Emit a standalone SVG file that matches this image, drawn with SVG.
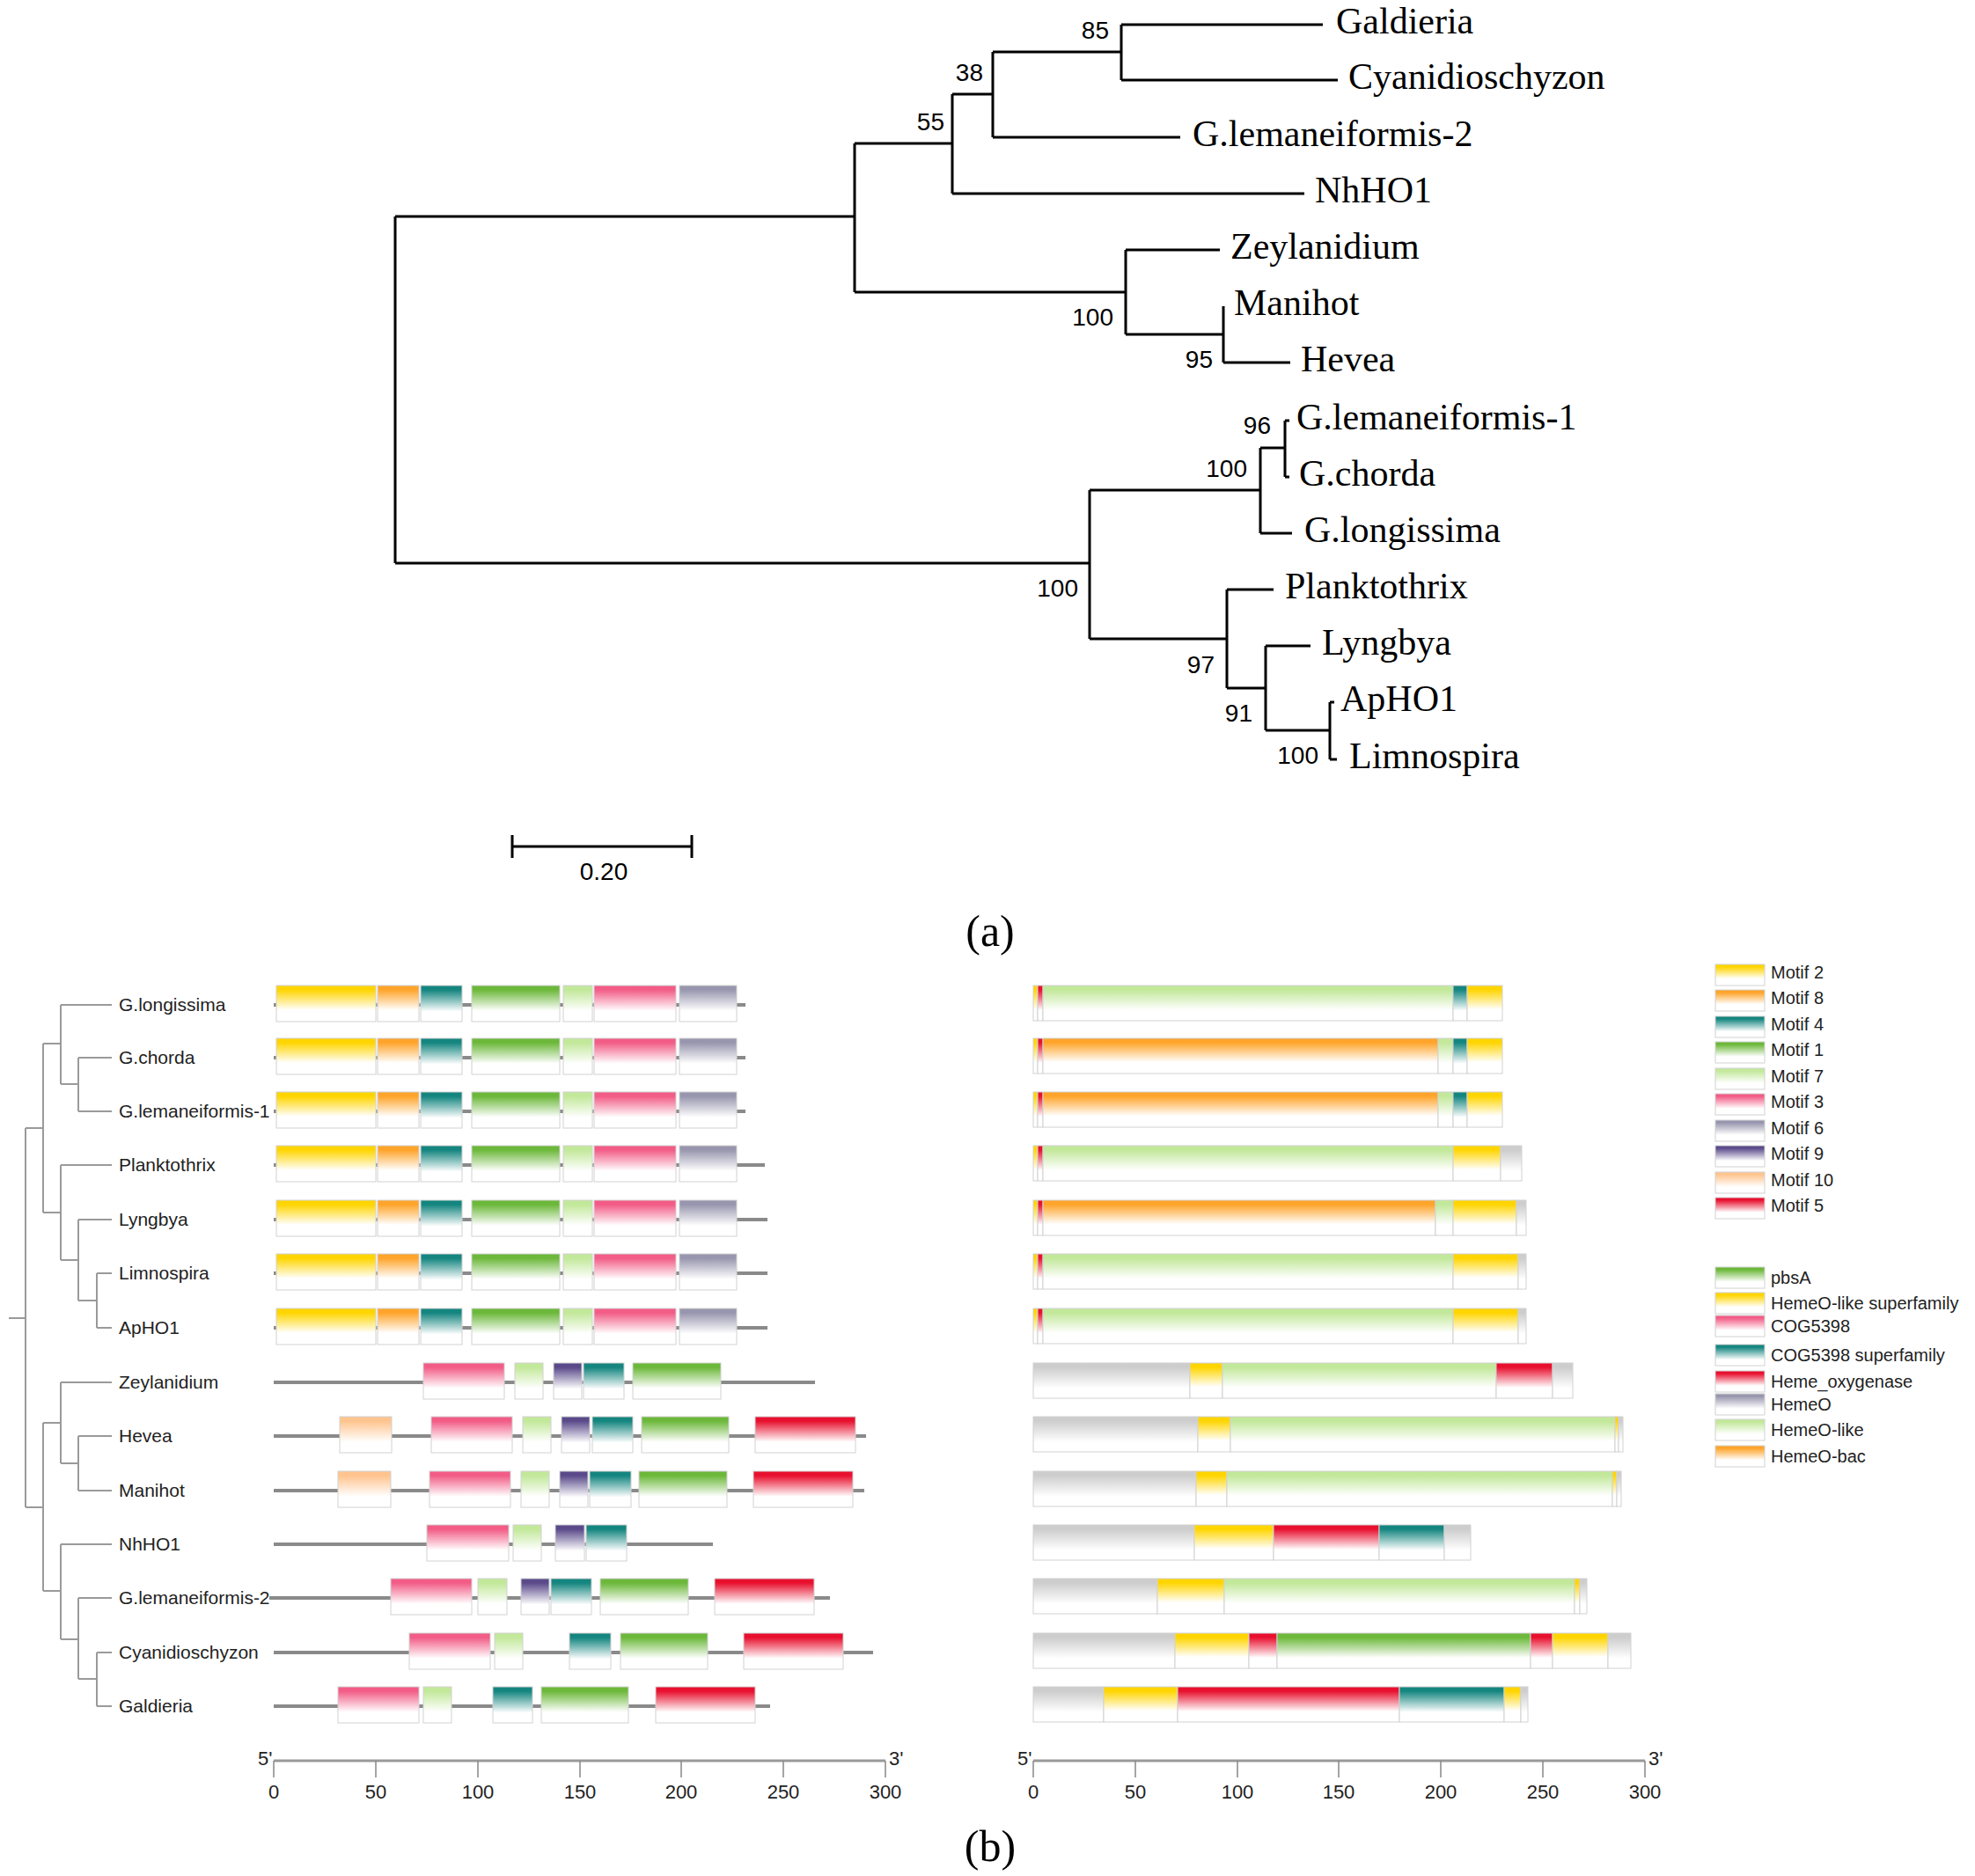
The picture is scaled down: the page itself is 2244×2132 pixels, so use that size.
<svg xmlns="http://www.w3.org/2000/svg" width="2244" height="2132" viewBox="0 0 2244 2132">
<defs>
<linearGradient id="gY" x1="0" y1="0" x2="0" y2="1"><stop offset="0" stop-color="#FFD500"/><stop offset="0.12" stop-color="#FFD500"/><stop offset="0.68" stop-color="#fff"/></linearGradient>
<linearGradient id="gO" x1="0" y1="0" x2="0" y2="1"><stop offset="0" stop-color="#FFA42A"/><stop offset="0.12" stop-color="#FFA42A"/><stop offset="0.68" stop-color="#fff"/></linearGradient>
<linearGradient id="gT" x1="0" y1="0" x2="0" y2="1"><stop offset="0" stop-color="#14857F"/><stop offset="0.12" stop-color="#14857F"/><stop offset="0.72" stop-color="#fff"/></linearGradient>
<linearGradient id="gG" x1="0" y1="0" x2="0" y2="1"><stop offset="0" stop-color="#6CB83A"/><stop offset="0.12" stop-color="#6CB83A"/><stop offset="0.7" stop-color="#fff"/></linearGradient>
<linearGradient id="gL" x1="0" y1="0" x2="0" y2="1"><stop offset="0" stop-color="#C2E89A"/><stop offset="0.12" stop-color="#C2E89A"/><stop offset="0.7" stop-color="#fff"/></linearGradient>
<linearGradient id="gP" x1="0" y1="0" x2="0" y2="1"><stop offset="0" stop-color="#F25C86"/><stop offset="0.12" stop-color="#F25C86"/><stop offset="0.7" stop-color="#fff"/></linearGradient>
<linearGradient id="gA" x1="0" y1="0" x2="0" y2="1"><stop offset="0" stop-color="#9896AE"/><stop offset="0.12" stop-color="#9896AE"/><stop offset="0.7" stop-color="#fff"/></linearGradient>
<linearGradient id="gV" x1="0" y1="0" x2="0" y2="1"><stop offset="0" stop-color="#5A4A8A"/><stop offset="0.12" stop-color="#5A4A8A"/><stop offset="0.72" stop-color="#fff"/></linearGradient>
<linearGradient id="gE" x1="0" y1="0" x2="0" y2="1"><stop offset="0" stop-color="#FFC48E"/><stop offset="0.12" stop-color="#FFC48E"/><stop offset="0.7" stop-color="#fff"/></linearGradient>
<linearGradient id="gR" x1="0" y1="0" x2="0" y2="1"><stop offset="0" stop-color="#E8102E"/><stop offset="0.12" stop-color="#E8102E"/><stop offset="0.7" stop-color="#fff"/></linearGradient>
<linearGradient id="gN" x1="0" y1="0" x2="0" y2="1"><stop offset="0" stop-color="#CDCDCD"/><stop offset="0.12" stop-color="#CDCDCD"/><stop offset="0.72" stop-color="#fff"/></linearGradient>
</defs>
<style>
.tl{fill:none;stroke:#000;stroke-width:3}
.gl{fill:none;stroke:#9a9a9a;stroke-width:2}
.bb{fill:none;stroke:#8a8a8a;stroke-width:4}
.leaf{font-family:"Liberation Serif",serif;font-size:42px;fill:#000}
.bs{font-family:"Liberation Sans",sans-serif;font-size:28px;fill:#000;text-anchor:end}
.sb{font-family:"Liberation Sans",sans-serif;font-size:28px;fill:#000;text-anchor:middle}
.pl{font-family:"Liberation Serif",serif;font-size:50px;fill:#000;text-anchor:middle}
.nm{font-family:"Liberation Sans",sans-serif;font-size:21px;fill:#222}
.lg{font-family:"Liberation Sans",sans-serif;font-size:20px;fill:#222}
.ax{font-family:"Liberation Sans",sans-serif;font-size:22px;fill:#222;text-anchor:middle}
.ax2{font-family:"Liberation Sans",sans-serif;font-size:22px;fill:#222}
.axl{fill:none;stroke:#999;stroke-width:3}
.tk{fill:none;stroke:#888;stroke-width:1.5}
.Y,.O,.T,.G,.L,.P,.A,.V,.E,.R,.N{stroke:#d2d2d2;stroke-width:1}
.Y{fill:url(#gY)}.O{fill:url(#gO)}.T{fill:url(#gT)}.G{fill:url(#gG)}.L{fill:url(#gL)}.P{fill:url(#gP)}.A{fill:url(#gA)}.V{fill:url(#gV)}.E{fill:url(#gE)}.R{fill:url(#gR)}.N{fill:url(#gN)}
</style>
<rect x="0" y="0" width="2244" height="2132" fill="#fff"/>

<!-- (a) phylogenetic tree -->
<g id="tree-a-connectors">
<path class="tl" d="M449,246 V640 M449,246 H971 M449,640 H1238"/>
<path class="tl" d="M971,163 V332 M971,163 H1082 M971,332 H1279"/>
<path class="tl" d="M1082,107 V220 M1082,107 H1128 M1082,220 H1482"/>
<path class="tl" d="M1128,59 V156 M1128,59 H1274 M1128,156 H1341"/>
<path class="tl" d="M1274,28 V91 M1274,28 H1503 M1274,91 H1520"/>
<path class="tl" d="M1279,284 V380 M1279,284 H1386 M1279,380 H1390"/>
<path class="tl" d="M1390,348 V412 M1390,412 H1466"/>
<path class="tl" d="M1238,557 V726 M1238,557 H1432 M1238,726 H1394"/>
<path class="tl" d="M1432,509 V606 M1432,509 H1460 M1432,606 H1468"/>
<path class="tl" d="M1460,478 V542 M1460,478 H1465 M1460,542 H1465"/>
<path class="tl" d="M1394,670 V782 M1394,670 H1447 M1394,782 H1438"/>
<path class="tl" d="M1438,734 V830 M1438,734 H1489 M1438,830 H1511"/>
<path class="tl" d="M1511,798 V863 M1511,798 H1516 M1511,863 H1519"/>
</g>
<g id="tree-a-bootstrap">
<text class="bs" x="1260" y="44">85</text>
<text class="bs" x="1117" y="92">38</text>
<text class="bs" x="1073" y="148">55</text>
<text class="bs" x="1265" y="370">100</text>
<text class="bs" x="1378" y="418">95</text>
<text class="bs" x="1444" y="493">96</text>
<text class="bs" x="1417" y="542">100</text>
<text class="bs" x="1225" y="678">100</text>
<text class="bs" x="1380" y="765">97</text>
<text class="bs" x="1423" y="820">91</text>
<text class="bs" x="1498" y="868">100</text>
</g>
<g id="a-Galdieria"><text class="leaf" x="1518" y="38">Galdieria</text></g>
<g id="a-Cyanidioschyzon"><text class="leaf" x="1532" y="101">Cyanidioschyzon</text></g>
<g id="a-Glem2"><text class="leaf" x="1355" y="166">G.lemaneiformis-2</text></g>
<g id="a-NhHO1"><text class="leaf" x="1494" y="230">NhHO1</text></g>
<g id="a-Zeylanidium"><text class="leaf" x="1398" y="294">Zeylanidium</text></g>
<g id="a-Manihot"><text class="leaf" x="1402" y="358">Manihot</text></g>
<g id="a-Hevea"><text class="leaf" x="1478" y="422">Hevea</text></g>
<g id="a-Glem1"><text class="leaf" x="1473" y="488">G.lemaneiformis-1</text></g>
<g id="a-Gchorda"><text class="leaf" x="1476" y="552">G.chorda</text></g>
<g id="a-Glongissima"><text class="leaf" x="1482" y="616">G.longissima</text></g>
<g id="a-Planktothrix"><text class="leaf" x="1460" y="680">Planktothrix</text></g>
<g id="a-Lyngbya"><text class="leaf" x="1502" y="744">Lyngbya</text></g>
<g id="a-ApHO1"><text class="leaf" x="1523" y="808">ApHO1</text></g>
<g id="a-Limnospira"><text class="leaf" x="1533" y="873">Limnospira</text></g>
<g id="a-scale">
<path class="tl" d="M582,962 H786 M582,949 V975 M786,949 V975"/>
<text class="sb" x="686" y="1000">0.20</text>
</g>
<text class="pl" x="1125" y="1075">(a)</text>

<!-- (b) left tree -->
<g id="tree-b-connectors">
<path class="gl" d="M10,1498 H29 M29,1282 V1713 M29,1282 H49 M29,1713 H49"/>
<path class="gl" d="M49,1186 V1378 M49,1186 H69 M49,1378 H69"/>
<path class="gl" d="M69,1142 V1232 M69,1142 H127 M69,1232 H89 M89,1202 V1263 M89,1202 H127 M89,1263 H127"/>
<path class="gl" d="M69,1324 V1432 M69,1324 H127 M69,1432 H89 M89,1386 V1478 M89,1386 H127 M89,1478 H110 M110,1447 V1509 M110,1447 H127 M110,1509 H127"/>
<path class="gl" d="M49,1617 V1808 M49,1617 H69 M49,1808 H69"/>
<path class="gl" d="M69,1571 V1663 M69,1571 H127 M69,1663 H89 M89,1632 V1694 M89,1632 H127 M89,1694 H127"/>
<path class="gl" d="M69,1755 V1863 M69,1755 H127 M69,1863 H89 M89,1816 V1908 M89,1816 H127 M89,1908 H110 M110,1878 V1939 M110,1878 H127 M110,1939 H127"/>
</g>

<!-- (b) motif rows -->
<g id="b-Glongissima">
<text class="nm" x="135" y="1149">G.longissima</text>
<path class="bb" d="M311,1142 H847"/>
<rect class="Y" x="314" y="1120" width="113" height="41"/><rect class="O" x="429" y="1120" width="47" height="41"/><rect class="T" x="478" y="1120" width="47" height="41"/><rect class="G" x="536" y="1120" width="100" height="41"/><rect class="L" x="640" y="1120" width="33" height="41"/><rect class="P" x="675" y="1120" width="93" height="41"/><rect class="A" x="772" y="1120" width="65" height="41"/>
<rect class="Y" x="1174" y="1120" width="5" height="40"/><rect class="R" x="1179" y="1120" width="6" height="40"/><rect class="L" x="1185" y="1120" width="466" height="40"/><rect class="T" x="1651" y="1120" width="16" height="40"/><rect class="Y" x="1667" y="1120" width="40" height="40"/>
</g>
<g id="b-Gchorda">
<text class="nm" x="135" y="1209">G.chorda</text>
<path class="bb" d="M311,1202 H847"/>
<rect class="Y" x="314" y="1180" width="113" height="41"/><rect class="O" x="429" y="1180" width="47" height="41"/><rect class="T" x="478" y="1180" width="47" height="41"/><rect class="G" x="536" y="1180" width="100" height="41"/><rect class="L" x="640" y="1180" width="33" height="41"/><rect class="P" x="675" y="1180" width="93" height="41"/><rect class="A" x="772" y="1180" width="65" height="41"/>
<rect class="Y" x="1174" y="1180" width="5" height="40"/><rect class="R" x="1179" y="1180" width="6" height="40"/><rect class="O" x="1185" y="1180" width="449" height="40"/><rect class="L" x="1634" y="1180" width="17" height="40"/><rect class="T" x="1651" y="1180" width="16" height="40"/><rect class="Y" x="1667" y="1180" width="40" height="40"/>
</g>
<g id="b-Glem1">
<text class="nm" x="135" y="1270">G.lemaneiformis-1</text>
<path class="bb" d="M311,1263 H847"/>
<rect class="Y" x="314" y="1241" width="113" height="41"/><rect class="O" x="429" y="1241" width="47" height="41"/><rect class="T" x="478" y="1241" width="47" height="41"/><rect class="G" x="536" y="1241" width="100" height="41"/><rect class="L" x="640" y="1241" width="33" height="41"/><rect class="P" x="675" y="1241" width="93" height="41"/><rect class="A" x="772" y="1241" width="65" height="41"/>
<rect class="Y" x="1174" y="1241" width="5" height="40"/><rect class="R" x="1179" y="1241" width="6" height="40"/><rect class="O" x="1185" y="1241" width="449" height="40"/><rect class="L" x="1634" y="1241" width="17" height="40"/><rect class="T" x="1651" y="1241" width="16" height="40"/><rect class="Y" x="1667" y="1241" width="40" height="40"/>
</g>
<g id="b-Planktothrix">
<text class="nm" x="135" y="1331">Planktothrix</text>
<path class="bb" d="M311,1324 H869"/>
<rect class="Y" x="314" y="1302" width="113" height="41"/><rect class="O" x="429" y="1302" width="47" height="41"/><rect class="T" x="478" y="1302" width="47" height="41"/><rect class="G" x="536" y="1302" width="100" height="41"/><rect class="L" x="640" y="1302" width="33" height="41"/><rect class="P" x="675" y="1302" width="93" height="41"/><rect class="A" x="772" y="1302" width="65" height="41"/>
<rect class="Y" x="1174" y="1302" width="5" height="40"/><rect class="R" x="1179" y="1302" width="6" height="40"/><rect class="L" x="1185" y="1302" width="466" height="40"/><rect class="Y" x="1651" y="1302" width="54" height="40"/><rect class="N" x="1705" y="1302" width="24" height="40"/>
</g>
<g id="b-Lyngbya">
<text class="nm" x="135" y="1393">Lyngbya</text>
<path class="bb" d="M311,1386 H872"/>
<rect class="Y" x="314" y="1364" width="113" height="41"/><rect class="O" x="429" y="1364" width="47" height="41"/><rect class="T" x="478" y="1364" width="47" height="41"/><rect class="G" x="536" y="1364" width="100" height="41"/><rect class="L" x="640" y="1364" width="33" height="41"/><rect class="P" x="675" y="1364" width="93" height="41"/><rect class="A" x="772" y="1364" width="65" height="41"/>
<rect class="Y" x="1174" y="1364" width="5" height="40"/><rect class="R" x="1179" y="1364" width="6" height="40"/><rect class="O" x="1185" y="1364" width="446" height="40"/><rect class="L" x="1631" y="1364" width="20" height="40"/><rect class="Y" x="1651" y="1364" width="72" height="40"/><rect class="N" x="1723" y="1364" width="11" height="40"/>
</g>
<g id="b-Limnospira">
<text class="nm" x="135" y="1454">Limnospira</text>
<path class="bb" d="M311,1447 H872"/>
<rect class="Y" x="314" y="1425" width="113" height="41"/><rect class="O" x="429" y="1425" width="47" height="41"/><rect class="T" x="478" y="1425" width="47" height="41"/><rect class="G" x="536" y="1425" width="100" height="41"/><rect class="L" x="640" y="1425" width="33" height="41"/><rect class="P" x="675" y="1425" width="93" height="41"/><rect class="A" x="772" y="1425" width="65" height="41"/>
<rect class="Y" x="1174" y="1425" width="5" height="40"/><rect class="R" x="1179" y="1425" width="6" height="40"/><rect class="L" x="1185" y="1425" width="466" height="40"/><rect class="Y" x="1651" y="1425" width="74" height="40"/><rect class="N" x="1725" y="1425" width="9" height="40"/>
</g>
<g id="b-ApHO1">
<text class="nm" x="135" y="1516">ApHO1</text>
<path class="bb" d="M311,1509 H872"/>
<rect class="Y" x="314" y="1487" width="113" height="41"/><rect class="O" x="429" y="1487" width="47" height="41"/><rect class="T" x="478" y="1487" width="47" height="41"/><rect class="G" x="536" y="1487" width="100" height="41"/><rect class="L" x="640" y="1487" width="33" height="41"/><rect class="P" x="675" y="1487" width="93" height="41"/><rect class="A" x="772" y="1487" width="65" height="41"/>
<rect class="Y" x="1174" y="1487" width="5" height="40"/><rect class="R" x="1179" y="1487" width="6" height="40"/><rect class="L" x="1185" y="1487" width="466" height="40"/><rect class="Y" x="1651" y="1487" width="74" height="40"/><rect class="N" x="1725" y="1487" width="9" height="40"/>
</g>
<g id="b-Zeylanidium">
<text class="nm" x="135" y="1578">Zeylanidium</text>
<path class="bb" d="M311,1571 H926"/>
<rect class="P" x="481" y="1549" width="92" height="41"/><rect class="L" x="585" y="1549" width="32" height="41"/><rect class="V" x="629" y="1549" width="32" height="41"/><rect class="T" x="663" y="1549" width="46" height="41"/><rect class="G" x="719" y="1549" width="100" height="41"/>
<rect class="N" x="1174" y="1549" width="178" height="40"/><rect class="Y" x="1352" y="1549" width="37" height="40"/><rect class="L" x="1389" y="1549" width="311" height="40"/><rect class="R" x="1700" y="1549" width="64" height="40"/><rect class="N" x="1764" y="1549" width="23" height="40"/>
</g>
<g id="b-Hevea">
<text class="nm" x="135" y="1639">Hevea</text>
<path class="bb" d="M311,1632 H984"/>
<rect class="E" x="386" y="1610" width="59" height="41"/><rect class="P" x="490" y="1610" width="92" height="41"/><rect class="L" x="594" y="1610" width="32" height="41"/><rect class="V" x="638" y="1610" width="32" height="41"/><rect class="T" x="673" y="1610" width="46" height="41"/><rect class="G" x="729" y="1610" width="99" height="41"/><rect class="R" x="858" y="1610" width="114" height="41"/>
<rect class="N" x="1174" y="1610" width="187" height="40"/><rect class="Y" x="1361" y="1610" width="37" height="40"/><rect class="L" x="1398" y="1610" width="437" height="40"/><rect class="Y" x="1835" y="1610" width="4" height="40"/><rect class="N" x="1839" y="1610" width="5" height="40"/>
</g>
<g id="b-Manihot">
<text class="nm" x="135" y="1701">Manihot</text>
<path class="bb" d="M311,1694 H982"/>
<rect class="E" x="384" y="1672" width="60" height="41"/><rect class="P" x="488" y="1672" width="92" height="41"/><rect class="L" x="592" y="1672" width="32" height="41"/><rect class="V" x="636" y="1672" width="32" height="41"/><rect class="T" x="670" y="1672" width="47" height="41"/><rect class="G" x="726" y="1672" width="100" height="41"/><rect class="R" x="856" y="1672" width="113" height="41"/>
<rect class="N" x="1174" y="1672" width="185" height="40"/><rect class="Y" x="1359" y="1672" width="35" height="40"/><rect class="L" x="1394" y="1672" width="438" height="40"/><rect class="Y" x="1832" y="1672" width="5" height="40"/><rect class="N" x="1837" y="1672" width="5" height="40"/>
</g>
<g id="b-NhHO1">
<text class="nm" x="135" y="1762">NhHO1</text>
<path class="bb" d="M311,1755 H810"/>
<rect class="P" x="485" y="1733" width="93" height="41"/><rect class="L" x="583" y="1733" width="32" height="41"/><rect class="V" x="631" y="1733" width="33" height="41"/><rect class="T" x="666" y="1733" width="46" height="41"/>
<rect class="N" x="1174" y="1733" width="183" height="40"/><rect class="Y" x="1357" y="1733" width="90" height="40"/><rect class="R" x="1447" y="1733" width="120" height="40"/><rect class="T" x="1567" y="1733" width="74" height="40"/><rect class="N" x="1641" y="1733" width="30" height="40"/>
</g>
<g id="b-Glem2">
<text class="nm" x="135" y="1823">G.lemaneiformis-2</text>
<path class="bb" d="M306,1816 H943"/>
<rect class="P" x="444" y="1794" width="92" height="41"/><rect class="L" x="543" y="1794" width="33" height="41"/><rect class="V" x="592" y="1794" width="32" height="41"/><rect class="T" x="626" y="1794" width="46" height="41"/><rect class="G" x="682" y="1794" width="100" height="41"/><rect class="R" x="812" y="1794" width="113" height="41"/>
<rect class="N" x="1174" y="1794" width="141" height="40"/><rect class="Y" x="1315" y="1794" width="76" height="40"/><rect class="L" x="1391" y="1794" width="398" height="40"/><rect class="Y" x="1789" y="1794" width="6" height="40"/><rect class="N" x="1795" y="1794" width="8" height="40"/>
</g>
<g id="b-Cyanidioschyzon">
<text class="nm" x="135" y="1885">Cyanidioschyzon</text>
<path class="bb" d="M311,1878 H992"/>
<rect class="P" x="465" y="1856" width="92" height="41"/><rect class="L" x="562" y="1856" width="32" height="41"/><rect class="T" x="647" y="1856" width="47" height="41"/><rect class="G" x="705" y="1856" width="99" height="41"/><rect class="R" x="845" y="1856" width="113" height="41"/>
<rect class="N" x="1174" y="1856" width="161" height="40"/><rect class="Y" x="1335" y="1856" width="84" height="40"/><rect class="R" x="1419" y="1856" width="32" height="40"/><rect class="G" x="1451" y="1856" width="288" height="40"/><rect class="R" x="1739" y="1856" width="25" height="40"/><rect class="Y" x="1764" y="1856" width="63" height="40"/><rect class="N" x="1827" y="1856" width="26" height="40"/>
</g>
<g id="b-Galdieria">
<text class="nm" x="135" y="1946">Galdieria</text>
<path class="bb" d="M311,1939 H875"/>
<rect class="P" x="384" y="1917" width="92" height="41"/><rect class="L" x="481" y="1917" width="32" height="41"/><rect class="T" x="560" y="1917" width="45" height="41"/><rect class="G" x="615" y="1917" width="99" height="41"/><rect class="R" x="745" y="1917" width="113" height="41"/>
<rect class="N" x="1174" y="1917" width="80" height="40"/><rect class="Y" x="1254" y="1917" width="84" height="40"/><rect class="R" x="1338" y="1917" width="252" height="40"/><rect class="T" x="1590" y="1917" width="119" height="40"/><rect class="Y" x="1709" y="1917" width="19" height="40"/><rect class="N" x="1728" y="1917" width="8" height="40"/>
</g>

<!-- axes -->
<g id="axis-left">
<path class="axl" d="M311,2001 H1006"/>
<path class="tk" d="M311,2001 V2020 M427,2001 V2020 M543,2001 V2020 M659,2001 V2020 M774,2001 V2020 M890,2001 V2020 M1006,2001 V2020"/>
<text class="ax2" x="293" y="2006">5'</text><text class="ax2" x="1010" y="2006">3'</text>
<text class="ax" x="311" y="2044">0</text><text class="ax" x="427" y="2044">50</text><text class="ax" x="543" y="2044">100</text><text class="ax" x="659" y="2044">150</text><text class="ax" x="774" y="2044">200</text><text class="ax" x="890" y="2044">250</text><text class="ax" x="1006" y="2044">300</text>
</g>
<g id="axis-right">
<path class="axl" d="M1174,2001 H1869"/>
<path class="tk" d="M1174,2001 V2020 M1290,2001 V2020 M1406,2001 V2020 M1521,2001 V2020 M1637,2001 V2020 M1753,2001 V2020 M1869,2001 V2020"/>
<text class="ax2" x="1156" y="2006">5'</text><text class="ax2" x="1873" y="2006">3'</text>
<text class="ax" x="1174" y="2044">0</text><text class="ax" x="1290" y="2044">50</text><text class="ax" x="1406" y="2044">100</text><text class="ax" x="1521" y="2044">150</text><text class="ax" x="1637" y="2044">200</text><text class="ax" x="1753" y="2044">250</text><text class="ax" x="1869" y="2044">300</text>
</g>

<!-- legends -->
<g id="legend-motifs">
<rect class="Y" x="1949" y="1096" width="56" height="24"/><text class="lg" x="2012" y="1112">Motif 2</text>
<rect class="O" x="1949" y="1125" width="56" height="24"/><text class="lg" x="2012" y="1141">Motif 8</text>
<rect class="T" x="1949" y="1155" width="56" height="24"/><text class="lg" x="2012" y="1171">Motif 4</text>
<rect class="G" x="1949" y="1184" width="56" height="24"/><text class="lg" x="2012" y="1200">Motif 1</text>
<rect class="L" x="1949" y="1214" width="56" height="24"/><text class="lg" x="2012" y="1230">Motif 7</text>
<rect class="P" x="1949" y="1243" width="56" height="24"/><text class="lg" x="2012" y="1259">Motif 3</text>
<rect class="A" x="1949" y="1273" width="56" height="24"/><text class="lg" x="2012" y="1289">Motif 6</text>
<rect class="V" x="1949" y="1302" width="56" height="24"/><text class="lg" x="2012" y="1318">Motif 9</text>
<rect class="E" x="1949" y="1332" width="56" height="24"/><text class="lg" x="2012" y="1348">Motif 10</text>
<rect class="R" x="1949" y="1361" width="56" height="24"/><text class="lg" x="2012" y="1377">Motif 5</text>
</g>
<g id="legend-domains">
<rect class="G" x="1949" y="1440" width="56" height="24"/><text class="lg" x="2012" y="1459">pbsA</text>
<rect class="Y" x="1949" y="1469" width="56" height="24"/><text class="lg" x="2012" y="1488">HemeO-like superfamily</text>
<rect class="P" x="1949" y="1495" width="56" height="24"/><text class="lg" x="2012" y="1514">COG5398</text>
<rect class="T" x="1949" y="1528" width="56" height="24"/><text class="lg" x="2012" y="1547">COG5398 superfamily</text>
<rect class="R" x="1949" y="1558" width="56" height="24"/><text class="lg" x="2012" y="1577">Heme_oxygenase</text>
<rect class="A" x="1949" y="1584" width="56" height="24"/><text class="lg" x="2012" y="1603">HemeO</text>
<rect class="L" x="1949" y="1613" width="56" height="24"/><text class="lg" x="2012" y="1632">HemeO-like</text>
<rect class="O" x="1949" y="1643" width="56" height="24"/><text class="lg" x="2012" y="1662">HemeO-bac</text>
</g>
<text class="pl" x="1125" y="2115">(b)</text>
</svg>
